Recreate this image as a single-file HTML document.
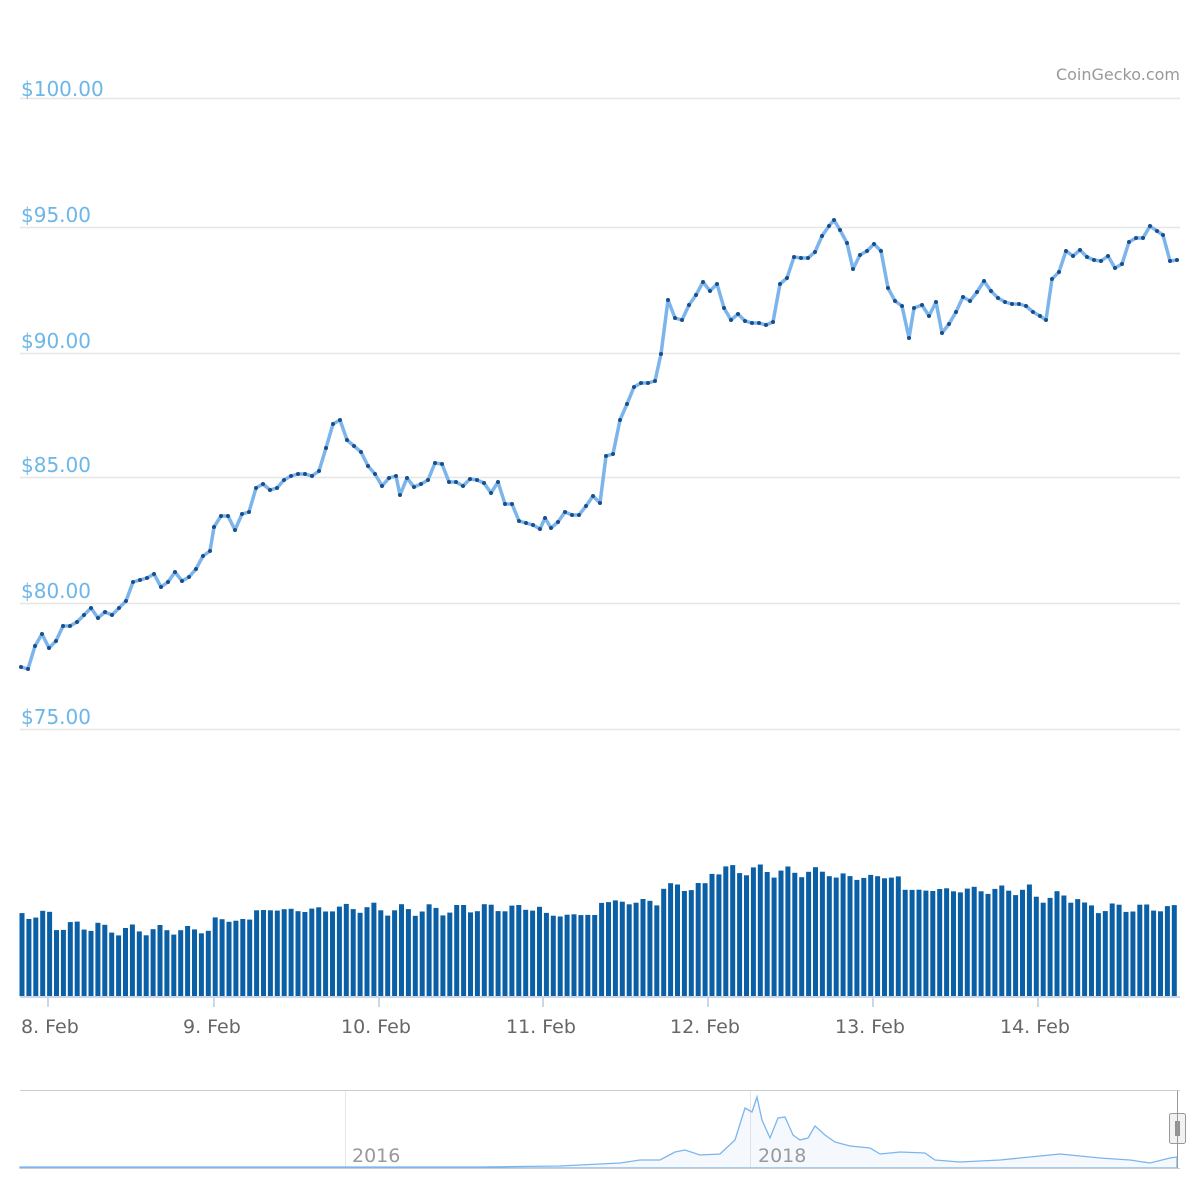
<!DOCTYPE html>
<html><head><meta charset="utf-8"><style>
html,body{margin:0;padding:0;background:#fff}
svg{display:block;font-family:"DejaVu Sans","Liberation Sans",sans-serif}
</style></head><body>
<svg id="s" width="1200" height="1200" xmlns="http://www.w3.org/2000/svg">
<g stroke="#e6e6e6" stroke-width="1.5">
<line x1="20" x2="1180" y1="98.5" y2="98.5"/>
<line x1="20" x2="1180" y1="227.5" y2="227.5"/>
<line x1="20" x2="1180" y1="353.5" y2="353.5"/>
<line x1="20" x2="1180" y1="477.5" y2="477.5"/>
<line x1="20" x2="1180" y1="603.5" y2="603.5"/>
<line x1="20" x2="1180" y1="729.5" y2="729.5"/>
</g>
<g fill="#6cb6e8" font-size="20">
<text x="21" y="96">$100.00</text>
<text x="21" y="222">$95.00</text>
<text x="21" y="348">$90.00</text>
<text x="21" y="472">$85.00</text>
<text x="21" y="598">$80.00</text>
<text x="21" y="724">$75.00</text>
</g>
<text x="1180" y="80" text-anchor="end" fill="#999" font-size="16">CoinGecko.com</text>
<g id="vol" fill="#0b5fa5"></g>
<line x1="20" x2="1180" y1="997" y2="997" stroke="#ccd6eb" stroke-width="2"/>
<g stroke="#ccd6eb" stroke-width="2">
<line x1="48" x2="48" y1="997" y2="1007"/><line x1="214" x2="214" y1="997" y2="1007"/>
<line x1="379" x2="379" y1="997" y2="1007"/><line x1="543" x2="543" y1="997" y2="1007"/>
<line x1="708" x2="708" y1="997" y2="1007"/><line x1="873" x2="873" y1="997" y2="1007"/>
<line x1="1038" x2="1038" y1="997" y2="1007"/>
</g>
<g fill="#666" font-size="19">
<text x="21" y="1033">8. Feb</text><text x="183" y="1033">9. Feb</text>
<text x="341" y="1033">10. Feb</text><text x="506" y="1033">11. Feb</text>
<text x="670" y="1033">12. Feb</text><text x="835" y="1033">13. Feb</text>
<text x="1000" y="1033">14. Feb</text>
</g>
<polyline id="pl" fill="none" stroke="#7cb5ec" stroke-width="3.5" stroke-linejoin="round"/>
<g id="dots" fill="#1a4e8a"></g>
<line x1="20" x2="1180" y1="1090.5" y2="1090.5" stroke="#ccc"/>
<line x1="345.5" x2="345.5" y1="1091" y2="1168" stroke="#e6e6e6"/>
<line x1="750.5" x2="750.5" y1="1091" y2="1168" stroke="#e6e6e6"/>
<path id="nav" fill="rgba(124,181,236,0.08)" stroke="#7cb5ec" stroke-width="1.3"/>
<text x="352" y="1162" fill="#999" font-size="19">2016</text>
<text x="758" y="1162" fill="#999" font-size="19">2018</text>
<line x1="20" x2="1180" y1="1168.5" y2="1168.5" stroke="#ccc"/>
<rect x="1169.5" y="1113.5" width="16" height="30" rx="2" fill="#f2f2f2" stroke="#999"/>
<line x1="1176" x2="1176" y1="1121" y2="1136" stroke="#333"/>
<line x1="1179" x2="1179" y1="1121" y2="1136" stroke="#333"/>
<line x1="1177.5" x2="1177.5" y1="1091" y2="1168" stroke="#999"/>
</svg>
<script>
var P=[21,667,28,669,35,646,42,634,49,648,56,641,63,626,70,626,77,622,84,615,91,608,98,618,105,612,112,615,119,608,126,601,133,582,140,580,147,578,154,574,161,587,168,582,175,572,182,581,189,577,196,569,203,556,210,551,214,527,221,516,228,516,235,530,242,514,249,512,256,488,263,484,270,490,277,488,284,480,291,476,298,474,305,474,312,476,319,471,326,448,333,424,340,420,347,440,354,446,361,452,368,466,375,474,382,486,389,478,396,476,400,495,407,478,414,487,421,484,428,480,435,463,442,464,449,482,456,482,463,486,470,479,477,480,484,483,491,493,498,482,505,504,512,504,519,521,526,523,533,525,540,529,545,518,551,528,558,522,565,512,572,515,579,515,586,506,593,496,600,503,606,456,613,454,620,420,627,404,634,387,641,383,648,383,655,381,661,354,668,300,675,318,682,320,689,305,696,295,703,282,710,291,717,284,724,308,731,320,738,314,745,321,752,323,759,323,766,325,773,322,780,284,787,278,794,257,801,258,808,258,815,252,822,236,829,226,834,220,840,230,847,243,853,269,860,255,867,251,874,244,881,251,888,288,895,301,902,306,909,338,914,308,922,305,929,316,936,302,942,333,949,324,956,312,963,297,970,301,977,292,984,281,991,291,998,298,1005,302,1012,304,1019,304,1026,306,1033,312,1040,316,1046,320,1052,279,1059,272,1066,251,1073,256,1080,250,1087,257,1094,260,1101,261,1108,256,1115,268,1122,264,1129,242,1136,238,1143,238,1150,226,1157,231,1163,235,1170,261,1177,260];
var pts=[],d="";
for(var i=0;i<P.length;i+=2){pts.push(P[i]+","+P[i+1]);d+='<circle cx="'+P[i]+'" cy="'+P[i+1]+'" r="2"/>';}
document.getElementById("pl").setAttribute("points",pts.join(" "));
document.getElementById("dots").innerHTML=d;
var seg=[[50,915],[100,926],[210,930],[250,920],[330,910],[380,908],[460,910],[540,908],[600,915],[660,902],[710,887],[770,870],[830,872],[900,877],[1030,890],[1080,897],[1180,908]];
var v="",k=0;
for(var x=22;x<1178;x+=6.9){while(seg[k][0]<x)k++;var t=seg[k][1]+((Math.sin(x*0.7)+Math.sin(x*0.23))*3);
v+='<rect x="'+(x-2.5).toFixed(1)+'" y="'+t.toFixed(1)+'" width="5" height="'+(996-t).toFixed(1)+'"/>';}
document.getElementById("vol").innerHTML=v;
var N=[[20,1167],[480,1167],[560,1166],[620,1163],[640,1160],[660,1160],[675,1152],[685,1150],[700,1155],[720,1154],[735,1140],[745,1108],[752,1112],[757,1097],[762,1120],[770,1138],[778,1118],[785,1117],[793,1135],[800,1140],[808,1138],[815,1126],[825,1135],[835,1142],[850,1146],[870,1148],[880,1154],[900,1152],[925,1153],[935,1160],[960,1162],[1000,1160],[1040,1156],[1060,1154],[1100,1158],[1130,1160],[1150,1163],[1170,1158],[1177,1157]];
var p="M20,1168";N.forEach(function(q){p+=" L"+q[0]+","+q[1];});p+=" L1177,1168 Z";
document.getElementById("nav").setAttribute("d",p);
</script>
</body></html>
